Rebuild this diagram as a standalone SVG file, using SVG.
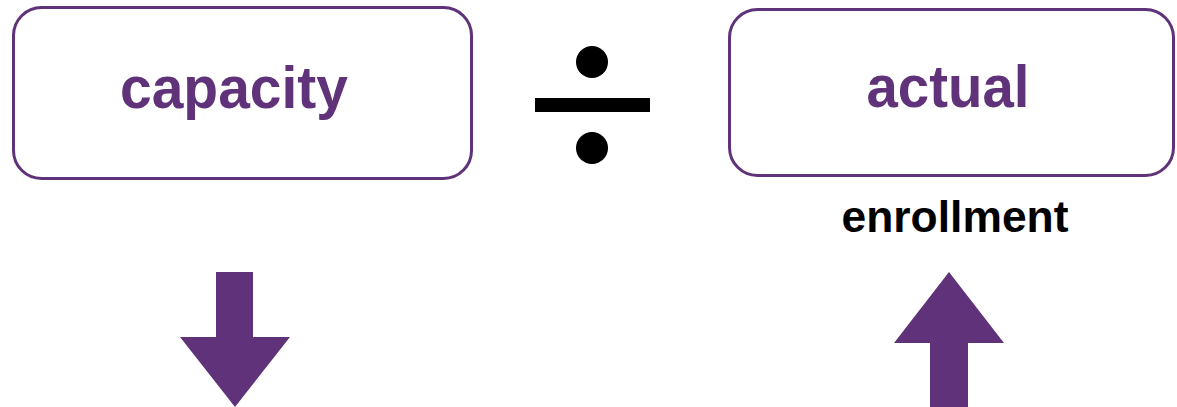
<svg xmlns="http://www.w3.org/2000/svg" width="1177" height="407" viewBox="0 0 1177 407">
<style>
.box{fill:#fff;stroke:#5f3279;stroke-width:3}
.lbl{font-family:"Liberation Sans",Arial,sans-serif;font-weight:bold;fill:#5f3279;font-size:60px;text-anchor:middle}
.sub{font-family:"Liberation Sans",Arial,sans-serif;font-weight:bold;fill:#000;font-size:44px;text-anchor:middle}
.arrow{fill:#5f3279}
</style>
<rect width="1177" height="407" fill="#fff"/>
<g id="capacity">
<rect class="box" x="13.5" y="7.5" width="458" height="171" rx="28"/>
<text class="lbl" x="234" y="108" textLength="228" lengthAdjust="spacingAndGlyphs">capacity</text>
</g>
<g id="divide">
<circle cx="592" cy="62" r="16"/>
<rect x="535" y="98" width="115" height="14"/>
<circle cx="592" cy="148" r="16"/>
</g>
<g id="actual">
<rect class="box" x="729.5" y="9.5" width="444" height="166" rx="28"/>
<text class="lbl" x="948" y="107" textLength="163" lengthAdjust="spacingAndGlyphs">actual</text>
</g>
<g id="enrollment">
<text class="sub" x="955" y="232" textLength="227" lengthAdjust="spacingAndGlyphs">enrollment</text>
</g>
<g id="connectors">
<polygon class="arrow" points="216,272 253,272 253,337 290,337 235,407 180,337 216,337"/>
<polygon class="arrow" points="949,272 1004,343 968,343 968,407 930,407 930,343 894,343"/>
</g>
</svg>
